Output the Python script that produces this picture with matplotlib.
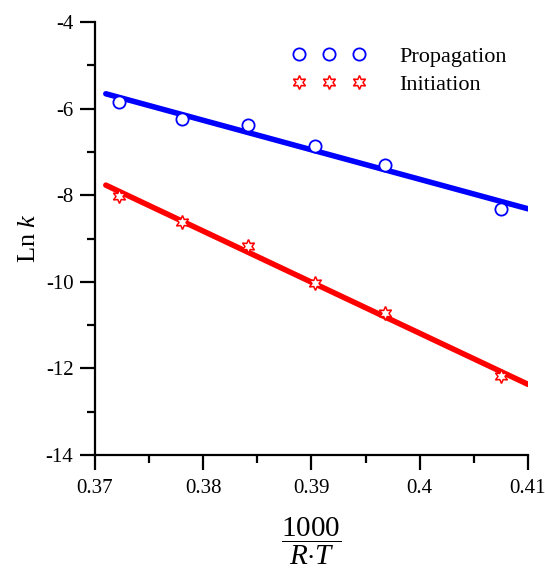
import numpy as np
import matplotlib
matplotlib.use("Agg")
import matplotlib.pyplot as plt
from matplotlib.ticker import MultipleLocator, FormatStrFormatter

plt.rcParams['font.family'] = ['Liberation Serif', 'DejaVu Serif']
plt.rcParams['mathtext.fontset'] = 'custom'
plt.rcParams['mathtext.rm'] = 'Liberation Serif'
plt.rcParams['mathtext.it'] = 'Liberation Serif:italic'
plt.rcParams['axes.unicode_minus'] = False

# data: x = 1000/(R*T)
inv_rt = [0.37221, 0.37806, 0.38410, 0.39033, 0.39677, 0.40752]
ln_k_propagation = [-5.853, -6.246, -6.384, -6.855, -7.300, -8.323]
ln_k_initiation = [-8.016, -8.623, -9.177, -10.030, -10.723, -12.186]
fit_range = [0.371, 0.41]
x_ticks = [0.37, 0.38, 0.39, 0.40, 0.41]
y_ticks = [-14, -12, -10, -8, -6, -4]

fig = plt.figure(figsize=(5.45, 5.70), dpi=100)
ax = fig.add_axes([95/545, 1-455/570, (528-95)/545, (455-22)/570])

xf = np.array(fit_range)
for yy, col in [(ln_k_propagation, '#0000ff'), (ln_k_initiation, '#ff0000')]:
    p = np.polyfit(inv_rt, yy, 1)
    ax.plot(xf, np.polyval(p, xf), color=col, lw=4.0, solid_capstyle='round', zorder=2)

ax.plot(inv_rt, ln_k_propagation, linestyle='none', marker='o', ms=8.8,
        mfc='white', mec='#0000ff', mew=1.3, label='Propagation', zorder=3)
ax.plot(inv_rt, ln_k_initiation, linestyle='none', marker=(6, 1, 0), ms=10,
        mfc='white', mec='#ff0000', mew=1.1, label='Initiation', zorder=3)

ax.set_xlim(0.37, 0.41)
ax.set_ylim(-14, -4)
ax.set_xticks(x_ticks)
ax.set_yticks(y_ticks)
ax.xaxis.set_minor_locator(MultipleLocator(0.005))
ax.yaxis.set_minor_locator(MultipleLocator(1))
ax.xaxis.set_major_formatter(FormatStrFormatter('%g'))
ax.yaxis.set_major_formatter(FormatStrFormatter('%g'))

for s in ['top', 'right']:
    ax.spines[s].set_visible(False)
for s in ['left', 'bottom']:
    ax.spines[s].set_linewidth(1.6)

ax.tick_params(which='major', direction='out', length=10.5, width=1.6, labelsize=15, pad=5)
ax.tick_params(axis='x', which='major', pad=7)
ax.tick_params(which='minor', direction='out', length=5.5, width=1.6)

ax.set_ylabel(r'Ln $k$', fontsize=19, labelpad=4)
ax.set_xlabel(r'$\dfrac{1000}{R{\cdot}T}$', fontsize=21, labelpad=13)

leg = ax.legend(loc='upper left', bbox_to_anchor=(0.435, 0.965), frameon=False,
                numpoints=3, handlelength=3.3, handletextpad=1.5, fontsize=16,
                labelspacing=0.35, borderaxespad=0)

fig.savefig('out.png', dpi=100)
